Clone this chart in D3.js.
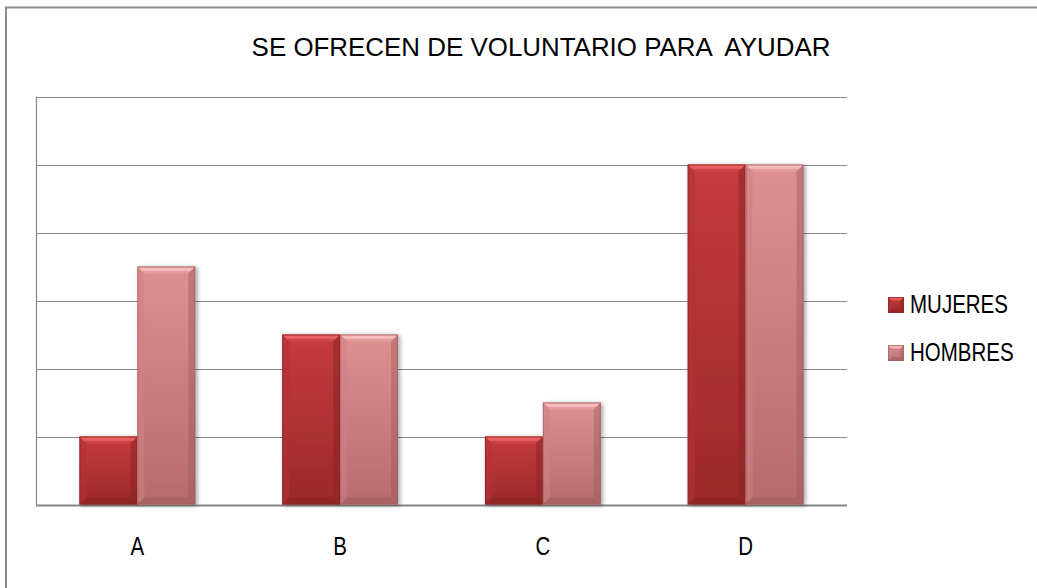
<!DOCTYPE html>
<html>
<head>
<meta charset="utf-8">
<script src="https://cdn.jsdelivr.net/npm/d3@7/dist/d3.min.js"></script>
<style>
  html, body { margin: 0; padding: 0; background: #ffffff; }
  svg { display: block; }
  text { font-family: "Liberation Sans", Arial, sans-serif; fill: #000; }
</style>
</head>
<body>
<svg id="chart" width="1037" height="588"></svg>
<script>
// ---- data ----
const title = "SE OFRECEN DE VOLUNTARIO PARA  AYUDAR";
const categories = ["A", "B", "C", "D"];
const seriesNames = ["MUJERES", "HOMBRES"];
const mujeres = [1, 2.5, 1, 5];
const hombres = [3.5, 2.5, 1.5, 5];
const yTicks = [0, 1, 2, 3, 4, 5, 6];

// ---- styles ----
const palette = {
  MUJERES: { top: "#C43B3D", bottom: "#9C292B", hi: "#EC6664", hi2: "#CD4547", side: "#B23234", dark: "#872224", edge: "#8a2426" },
  HOMBRES: { top: "#DF9192", bottom: "#B56B6C", hi: "#F8C0C0", hi2: "#E49C9D", side: "#CF8283", dark: "#9E5B5C", edge: "#9a5d5e" }
};
const narrow = 0.82; // emulate a narrow sans face

const svg = d3.select("#chart");
const plot = { left: 36, right: 847, top: 96.5, bottom: 504.5 };

// outer frame
svg.append("rect")
  .attr("x", 6).attr("y", 7.5)
  .attr("width", 1100).attr("height", 700)
  .attr("fill", "none").attr("stroke", "#8c8c8c").attr("stroke-width", 2);

const y = d3.scaleLinear().domain([0, 6]).range([plot.bottom, plot.top]);
const x = d3.scaleBand().domain(categories).range([plot.left, plot.right])
  .paddingInner(1.5 / 3.5).paddingOuter(0.75 / 3.5);
const xs = d3.scaleBand().domain(seriesNames).range([0, x.bandwidth()]);

// defs: gradients + shadow
const defs = svg.append("defs");
seriesNames.forEach(s => {
  const p = palette[s];
  const g = defs.append("linearGradient").attr("id", "face-" + s)
    .attr("x1", 0).attr("y1", 0).attr("x2", 0).attr("y2", 1);
  g.append("stop").attr("offset", "0%").attr("stop-color", p.top);
  g.append("stop").attr("offset", "100%").attr("stop-color", p.bottom);
});
const f = defs.append("filter").attr("id", "shadow").attr("x", "-20%").attr("y", "-10%").attr("width", "140%").attr("height", "120%");
f.append("feGaussianBlur").attr("in", "SourceAlpha").attr("stdDeviation", 2).attr("result", "b");
f.append("feOffset").attr("in", "b").attr("dx", 2).attr("dy", 1).attr("result", "o");
f.append("feComponentTransfer").attr("in", "o").attr("result", "o2")
  .append("feFuncA").attr("type", "linear").attr("slope", 0.35);
const fm = f.append("feMerge");
fm.append("feMergeNode").attr("in", "o2");
fm.append("feMergeNode").attr("in", "SourceGraphic");

// gridlines
svg.append("g").selectAll("line").data(yTicks).join("line")
  .attr("x1", plot.left).attr("x2", plot.right)
  .attr("y1", d => Math.round(y(d)) + 0.5).attr("y2", d => Math.round(y(d)) + 0.5)
  .attr("stroke", "#868686").attr("stroke-width", d => d === 0 ? 2 : 1.2);
// left axis line
svg.append("line")
  .attr("x1", plot.left + 0.5).attr("x2", plot.left + 0.5)
  .attr("y1", y(6)).attr("y2", y(0) + 1)
  .attr("stroke", "#868686").attr("stroke-width", 1.2);

// bevelled bar drawer
function bevelBar(g, x0, x1, y0, y1, s, b) {
  const p = palette[s];
  const grp = g.append("g");
  grp.append("rect").attr("x", x0).attr("y", y0).attr("width", x1 - x0).attr("height", y1 - y0)
    .attr("fill", `url(#face-${s})`);
  const bb = Math.min(b, (x1 - x0) / 2, (y1 - y0) / 2);
  const poly = pts => pts.map(q => q.join(",")).join(" ");
  grp.append("polygon").attr("points", poly([[x0, y0], [x1, y0], [x1 - bb, y0 + bb], [x0 + bb, y0 + bb]]))
    .attr("fill", p.hi2);
  grp.append("polygon").attr("points", poly([[x0 + 1, y0 + 1], [x1 - 1, y0 + 1], [x1 - 1 - bb * 0.45, y0 + 1 + bb * 0.45], [x0 + 1 + bb * 0.45, y0 + 1 + bb * 0.45]]))
    .attr("fill", p.hi).attr("opacity", 0.85);
  grp.append("polygon").attr("points", poly([[x0, y0], [x0 + bb, y0 + bb], [x0 + bb, y1 - bb], [x0, y1]]))
    .attr("fill", p.side).attr("opacity", 0.55);
  grp.append("polygon").attr("points", poly([[x1, y0], [x1 - bb, y0 + bb], [x1 - bb, y1 - bb], [x1, y1]]))
    .attr("fill", p.dark).attr("opacity", 0.45);
  grp.append("polygon").attr("points", poly([[x0, y1], [x0 + bb, y1 - bb], [x1 - bb, y1 - bb], [x1, y1]]))
    .attr("fill", p.dark).attr("opacity", 0.5);
  grp.append("rect").attr("x", x0 + 0.5).attr("y", y0 + 0.5).attr("width", x1 - x0 - 1).attr("height", y1 - y0 - 1)
    .attr("fill", "none").attr("stroke", p.edge).attr("stroke-width", 1).attr("opacity", 0.6);
  return grp;
}

// bars
const barsG = svg.append("g").attr("filter", "url(#shadow)");
const seriesData = { MUJERES: mujeres, HOMBRES: hombres };
seriesNames.forEach(s => {
  categories.forEach((c, i) => {
    const x0 = x(c) + xs(s);
    const x1 = x0 + xs.bandwidth();
    bevelBar(barsG, x0, x1, y(seriesData[s][i]), y(0), s, 7);
  });
});

// helper: narrow text placed at (px, py)
function narrowText(g, px, py, str, size, anchor) {
  return g.append("text")
    .attr("transform", `translate(${px},${py}) scale(${narrow},1)`)
    .attr("text-anchor", anchor || "start")
    .attr("font-size", size)
    .attr("xml:space", "preserve")
    .style("white-space", "pre")
    .text(str);
}

// category labels
const catG = svg.append("g");
categories.forEach(c => narrowText(catG, x(c) + x.bandwidth() / 2, 555, c, 25, "middle"));

// title
const t = narrowText(svg, 541, 56, title, 25, "middle");
const tl = t.node().getComputedTextLength() * narrow;
if (tl > 0) {
  const sx = narrow * 579 / tl;
  t.attr("transform", `translate(541,56) scale(${sx},1)`);
}

// legend
const legend = svg.append("g");
seriesNames.forEach((s, i) => {
  const ly = 297 + i * 48;
  bevelBar(legend, 888, 904, ly, ly + 16, s, 4);
  narrowText(legend, 910, ly + 16, s, 25, "start");
});
</script>
</body>
</html>
